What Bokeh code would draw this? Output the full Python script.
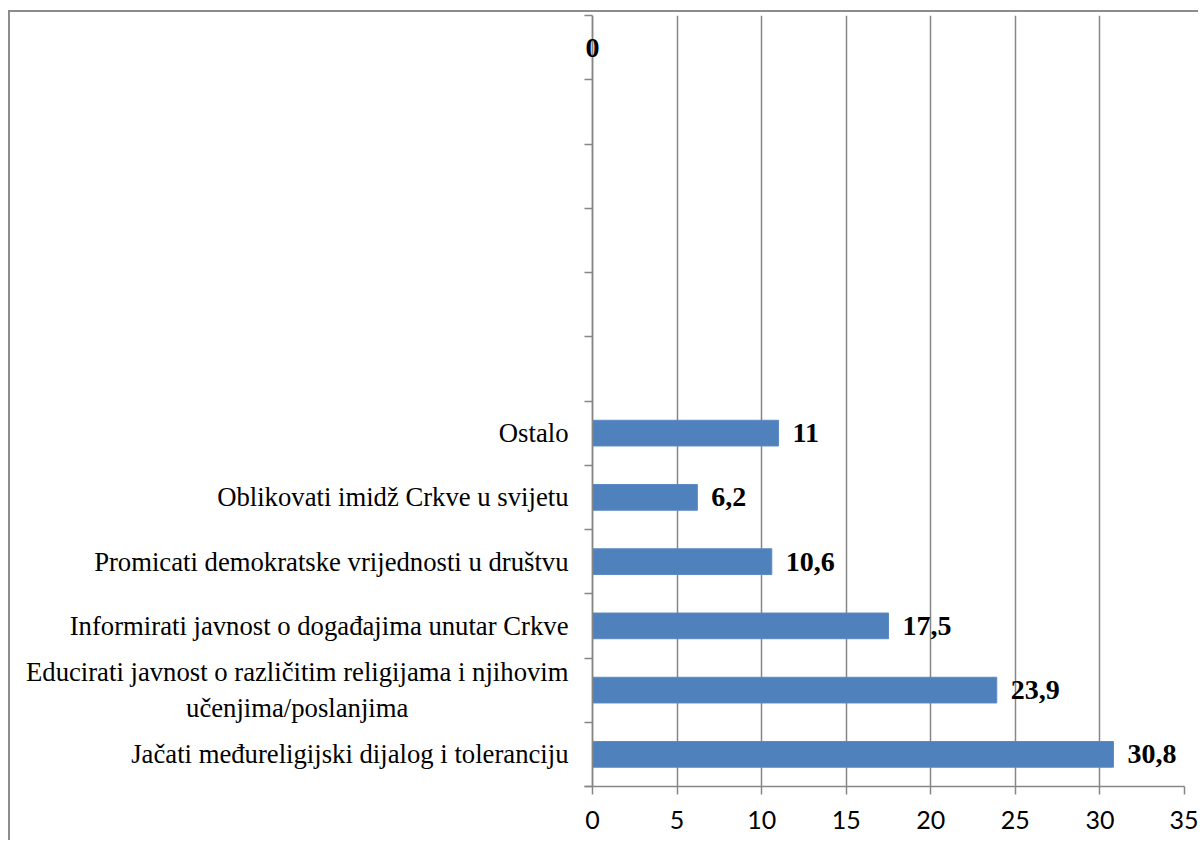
from bokeh.plotting import figure
from bokeh.models import FixedTicker, Range1d, ColumnDataSource, LabelSet, Span
from bokeh.core.properties import value
from bokeh.embed import file_html
from bokeh.resources import INLINE

# Categories from bottom to top (12 slots, the upper ones are empty)
categories = [
    "Jačati međureligijski dijalog i toleranciju",
    "Educirati javnost o različitim religijama i njihovim\nučenjima/poslanjima" + "\u00a0" * 24,
    "Informirati javnost o događajima unutar Crkve",
    "Promicati demokratske vrijednosti u društvu",
    "Oblikovati imidž Crkve u svijetu",
    "Ostalo",
    "", "", "", "", "", "",
]
values = [30.8, 23.9, 17.5, 10.6, 6.2, 11, None, None, None, None, None, 0]
value_labels = ["30,8", "23,9", "17,5", "10,6", "6,2", "11", "", "", "", "", "", "0"]
x_ticks = [0, 5, 10, 15, 20, 25, 30, 35]

centers = [i + 0.5 for i in range(len(categories))]
boundaries = list(range(len(categories) + 1))

bar_y = [c for c, v in zip(centers, values) if v is not None]
bar_v = [v for v in values if v is not None]
bar_src = ColumnDataSource(dict(y=bar_y, v=bar_v))

pos_src = ColumnDataSource(dict(
    y=[c for c, v in zip(centers, values) if v is not None and v > 0],
    x=[v for v in values if v is not None and v > 0],
    t=[l for l, v in zip(value_labels, values) if v is not None and v > 0],
))
zero_src = ColumnDataSource(dict(
    y=[c for c, v in zip(centers, values) if v == 0],
    x=[v for v in values if v == 0],
    t=[l for l, v in zip(value_labels, values) if v == 0],
))

GRAY = "#868686"
XMAX = 35
PLOT_W = 592           # pixels from 0 to XMAX
TICK = 8               # y tick length in pixels
x_start = -TICK * XMAX / PLOT_W

p = figure(width=1190, height=830, output_backend="svg", toolbar_location=None,
           x_range=Range1d(x_start, XMAX), y_range=Range1d(0, len(categories)))
p.min_border_left = 574
p.min_border_right = 16
p.min_border_top = 3
p.min_border_bottom = 56
p.outline_line_color = None
p.styles = {"border-left": "2px solid #8c8c8c", "border-top": "2px solid #8c8c8c",
            "margin-left": "8px", "margin-top": "10px"}

p.xgrid.ticker = FixedTicker(ticks=x_ticks)
p.xgrid.grid_line_color = GRAY
p.xgrid.grid_line_width = 1.5
p.ygrid.visible = False

# value axis line at 0
p.add_layout(Span(location=0, dimension="height", line_color=GRAY, line_width=1.5))

p.hbar(y="y", right="v", left=0, height=0.4, source=bar_src,
       fill_color="#4F81BD", line_color="#5b8ac3", line_width=1)

common = dict(text_font=value("Liberation Serif"), text_font_size="28px",
              text_font_style="bold", text_color="black", text_baseline="middle")
p.add_layout(LabelSet(x="x", y="y", text="t", source=pos_src, x_offset=14,
                      text_align="left", **common))
p.add_layout(LabelSet(x="x", y="y", text="t", source=zero_src, x_offset=0,
                      text_align="center", **common))

# x axis
p.xaxis.ticker = FixedTicker(ticks=x_ticks)
p.xaxis.major_tick_out = 8
p.xaxis.major_tick_in = 0
p.xaxis.minor_tick_out = 0
p.xaxis.axis_line_color = GRAY
p.xaxis.axis_line_width = 1.5
p.xaxis.major_tick_line_color = GRAY
p.xaxis.major_tick_line_width = 1.5
p.xaxis.major_label_text_font = "Lato"
p.xaxis.major_label_text_font_size = "25px"
p.xaxis.major_label_text_color = "black"
p.xaxis.major_label_standoff = 16

# category axis (ticks drawn inward so they end at the 0 line)
p.yaxis.ticker = FixedTicker(ticks=centers, minor_ticks=boundaries)
p.yaxis.major_label_overrides = {c: cat for c, cat in zip(centers, categories)}
p.yaxis.major_tick_out = 0
p.yaxis.major_tick_in = 0
p.yaxis.minor_tick_out = 0
p.yaxis.minor_tick_in = TICK
p.yaxis.minor_tick_line_color = GRAY
p.yaxis.minor_tick_line_width = 1.5
p.yaxis.axis_line_color = None
p.yaxis.major_label_text_font = "Liberation Serif"
p.yaxis.major_label_text_font_size = "26.7px"
p.yaxis.major_label_text_color = "black"
p.yaxis.major_label_standoff = 16

open("out.html", "w").write(file_html(p, INLINE))
